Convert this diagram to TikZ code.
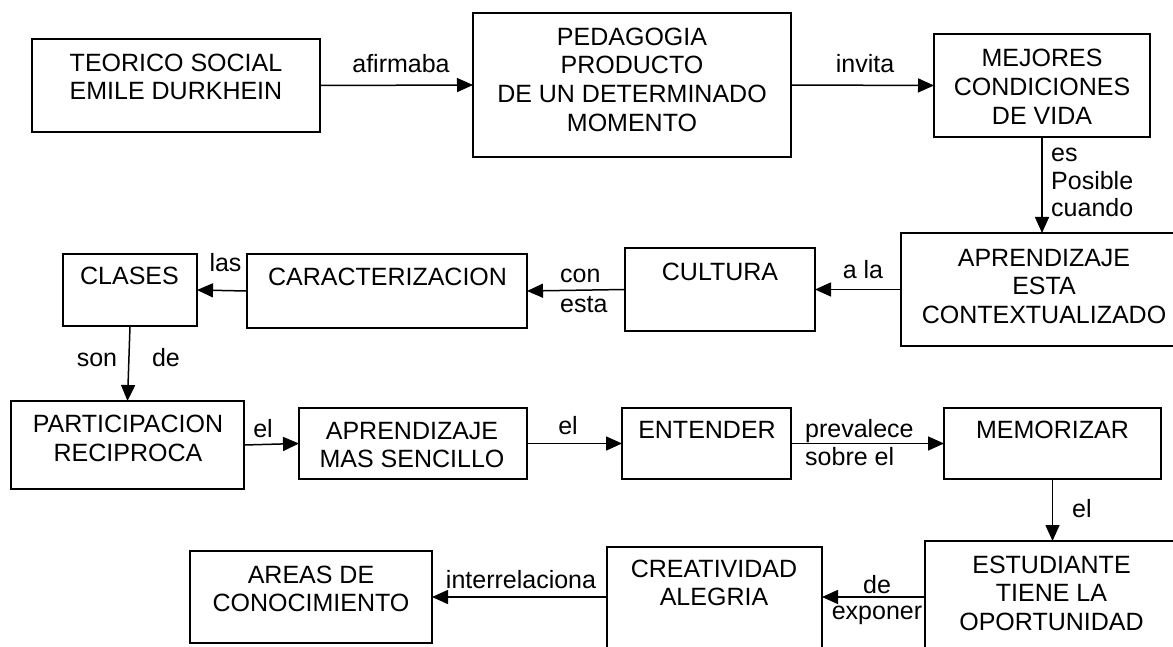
\documentclass[tikz,border=0pt]{standalone}
\usepackage{fontspec}
\setmainfont{Liberation Sans}
\usetikzlibrary{arrows.meta}
\begin{document}
\begin{tikzpicture}[x=1pt,y=-1pt,
  box/.style={draw, line width=1.5pt, inner sep=0pt, outer sep=0pt},
  txt/.style={align=center, font=\fontsize{25}{28.6}\selectfont, inner sep=0pt},
  lbl/.style={font=\fontsize{25}{28.6}\selectfont, inner sep=0pt},
  arr/.style={line width=1.5pt, -{Triangle[length=16pt,width=14pt]}}]
\useasboundingbox (0,0) rectangle (1173,647);
\fill[white] (0,0) rectangle (1173,647);
\clip (0,0) rectangle (1173,647);
% boxes
\node[box, minimum width=288pt, minimum height=93pt]  (b1)  at (176,85.5) {};
\node[box, minimum width=318pt, minimum height=144pt] (b2)  at (632,85) {};
\node[box, minimum width=216pt, minimum height=103pt] (b3)  at (1042,85.5) {};
\node[box, minimum width=286pt, minimum height=113pt] (b4)  at (1044,289.5) {};
\node[box, minimum width=190pt, minimum height=83pt]  (b5)  at (720,289.5) {};
\node[box, minimum width=280pt, minimum height=74pt]  (b6)  at (387,291) {};
\node[box, minimum width=134pt, minimum height=72pt]  (b7)  at (130,290) {};
\node[box, minimum width=233pt, minimum height=88pt]  (b8)  at (127.5,445) {};
\node[box, minimum width=228pt, minimum height=71pt]  (b9)  at (413,443.5) {};
\node[box, minimum width=169pt, minimum height=71pt]  (b10) at (706.5,443.5) {};
\node[box, minimum width=217pt, minimum height=71pt]  (b11) at (1052.5,443.5) {};
\node[box, minimum width=256pt, minimum height=159pt] (b12) at (1053,620.5) {};
\node[box, minimum width=215pt, minimum height=153pt] (b13) at (714.5,623.5) {};
\node[box, minimum width=242pt, minimum height=92pt]  (b14) at (311,597) {};
% box texts
\node[txt] (t1)  at (176,76.8)   {TEORICO SOCIAL\\EMILE DURKHEIN};
\node[txt] (t2)  at (632,79.6)   {PEDAGOGIA\\PRODUCTO\\DE UN DETERMINADO\\MOMENTO};
\node[txt] (t3)  at (1042,86.7)  {MEJORES\\CONDICIONES\\DE VIDA};
\node[txt] (t4)  at (1044,286.5) {APRENDIZAJE\\ESTA\\CONTEXTUALIZADO};
\node[txt] (t5)  at (720,272)    {CULTURA};
\node[txt] (t6)  at (387.5,276.5) {CARACTERIZACION};
\node[txt] (t7)  at (129.5,275.8) {CLASES};
\node[txt] (t8)  at (128,438.5)  {PARTICIPACION\\RECIPROCA};
\node[txt] (t9)  at (412,445)    {APRENDIZAJE\\MAS SENCILLO};
\node[txt] (t10) at (707,430)    {ENTENDER};
\node[txt] (t11) at (1052.5,430) {MEMORIZAR};
\node[txt] (t12) at (1051.5,593) {ESTUDIANTE\\TIENE LA\\OPORTUNIDAD};
\node[txt] (t13) at (714,583)    {CREATIVIDAD\\ALEGRIA};
\node[txt] (t14) at (311,589)    {AREAS DE\\CONOCIMIENTO};
% connectors
\draw[arr] (b1.east) -- (b2.west);
\draw[arr] (b2.east) -- (b3.west);
\draw[arr] (b3.south) -- (b3.south |- b4.north);
\draw[arr] (b4.west) -- (b5.east);
\draw[arr] (b5.west) -- (b6.east);
\draw[arr] (b6.west) -- (b7.east);
\draw[arr] (b7.south) -- (b8.north);
\draw[arr] (b8.east) -- (b9.west);
\draw[arr] (b9.east) -- (b10.west);
\draw[arr] (b10.east) -- (b11.west);
\draw[arr] (b11.south) -- (b11.south |- b12.north);
\coordinate (r6) at (0,597);
\draw[arr] (b12.west |- r6) -- (b13.east |- r6);
\draw[arr] (b13.west |- b14.east) -- (b14.east);
% labels
\node[lbl, anchor=base] (l1) at (401,73) {afirmaba};
\node[lbl, anchor=base] (l2) at (865,73) {invita};
\node[lbl, anchor=base west] (l3a) at (1051,162) {es};
\node[lbl, anchor=base west] (l3b) at (1051,190) {Posible};
\node[lbl, anchor=base west] (l3c) at (1051,217) {cuando};
\node[lbl, anchor=base] (l4) at (863,278) {a la};
\node[lbl, anchor=base west] (l5a) at (560,283) {con};
\node[lbl, anchor=base west] (l5b) at (560,312) {esta};
\node[lbl, anchor=base] (l6) at (225.5,272) {las};
\node[lbl, anchor=base] (l7a) at (97,366) {son};
\node[lbl, anchor=base] (l7b) at (166,366) {de};
\node[lbl, anchor=base] (l8) at (263,437) {el};
\node[lbl, anchor=base] (l9) at (568,434) {el};
\node[lbl, anchor=base west] (l10a) at (805,437) {prevalece};
\node[lbl, anchor=base west] (l10b) at (805,465) {sobre el};
\node[lbl, anchor=base west] (l11) at (1072,517) {el};
\node[lbl, anchor=base] (l12a) at (877,593) {de};
\node[lbl, anchor=base] (l12b) at (877,619) {exponer};
\node[lbl, anchor=base] (l13) at (521,588) {interrelaciona};
\end{tikzpicture}
\end{document}
